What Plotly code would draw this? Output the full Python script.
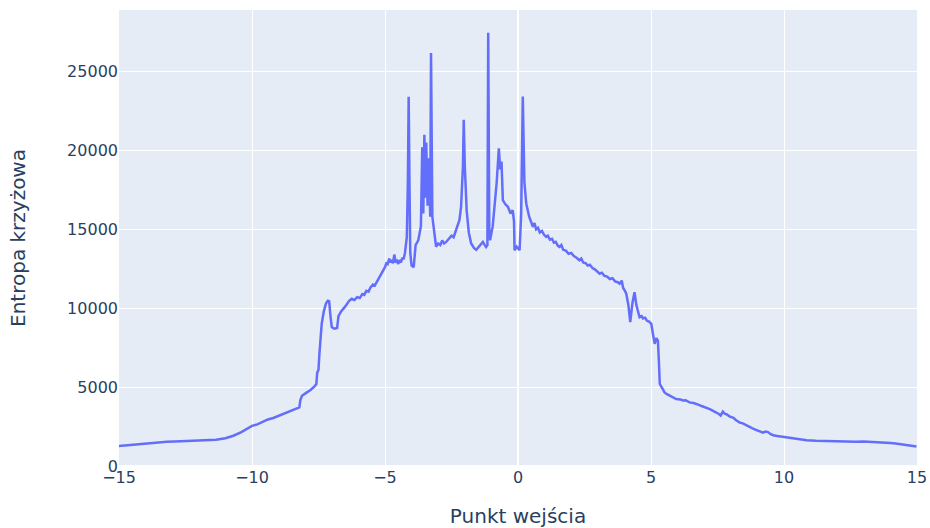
import plotly.graph_objects as go

x_vals = [
    -15.0, -14.6, -14.2, -13.8, -13.5, -13.2, -12.9, -12.6, -12.3, -12.0, -11.7, -11.35,
    -11.0, -10.7, -10.4, -10.2, -10.0, -9.8, -9.6, -9.4, -9.2, -9.0, -8.86, -8.7, -8.5,
    -8.3, -8.22, -8.18, -8.12, -7.95, -7.8, -7.65, -7.58, -7.55, -7.5, -7.47, -7.43,
    -7.38, -7.3, -7.22, -7.15, -7.1, -7.05, -7.0, -6.9, -6.8, -6.75, -6.65, -6.5, -6.34,
    -6.25, -6.15, -6.05, -5.95, -5.85, -5.78, -5.7, -5.62, -5.55, -5.45, -5.38, -5.3,
    -5.21, -5.15, -5.08, -5.0, -4.95, -4.9, -4.84, -4.8, -4.75, -4.7, -4.65, -4.6,
    -4.55, -4.5, -4.46, -4.4, -4.35, -4.3, -4.25, -4.18, -4.14, -4.11, -4.08, -4.05,
    -4.0, -3.92, -3.85, -3.75, -3.65, -3.6, -3.56, -3.52, -3.48, -3.45, -3.4, -3.35,
    -3.3, -3.27, -3.22, -3.15, -3.08, -3.0, -2.92, -2.85, -2.78, -2.7, -2.6, -2.5,
    -2.42, -2.33, -2.2, -2.14, -2.07, -2.04, -2.0, -1.93, -1.85, -1.76, -1.65, -1.57,
    -1.5, -1.45, -1.38, -1.32, -1.25, -1.2, -1.15, -1.12, -1.08, -1.05, -0.95, -0.88,
    -0.8, -0.72, -0.67, -0.62, -0.57, -0.48, -0.38, -0.28, -0.2, -0.15, -0.13, -0.05,
    0.06, 0.12, 0.18, 0.24, 0.31, 0.42, 0.5, 0.56, 0.62, 0.68, 0.75, 0.82, 0.9, 0.98,
    1.06, 1.12, 1.2, 1.28, 1.35, 1.42, 1.5, 1.56, 1.63, 1.7, 1.8, 1.9, 2.0, 2.1, 2.2,
    2.31, 2.38, 2.45, 2.55, 2.62, 2.7, 2.8, 2.9, 3.0, 3.07, 3.15, 3.25, 3.35, 3.45,
    3.55, 3.65, 3.75, 3.82, 3.9, 3.95, 4.02, 4.07, 4.15, 4.22, 4.3, 4.38, 4.45, 4.57,
    4.65, 4.7, 4.78, 4.85, 4.93, 5.01, 5.08, 5.14, 5.2, 5.26, 5.3, 5.33, 5.4, 5.51,
    5.6, 5.7, 5.8, 5.95, 6.1, 6.2, 6.3, 6.45, 6.6, 6.7, 6.8, 6.9, 7.05, 7.21, 7.35,
    7.46, 7.55, 7.62, 7.7, 7.78, 7.84, 7.95, 8.1, 8.2, 8.34, 8.45, 8.6, 8.7, 8.8, 8.9,
    9.0, 9.1, 9.21, 9.3, 9.4, 9.5, 9.6, 9.75, 9.97, 10.2, 10.4, 10.6, 10.85, 11.2, 11.5,
    11.8, 12.1, 12.4, 12.7, 13.0, 13.35, 13.7, 14.0, 14.2, 14.4, 14.7, 14.98,
]

y_vals = [
    1270, 1330, 1420, 1480, 1490, 1530, 1560, 1580, 1590, 1620, 1640, 1660,
    1760, 1920, 2150, 2330, 2540, 2640, 2800, 2950, 3040, 3180, 3300, 3400, 3520,
    3650, 3720, 4200, 4450, 4650, 4820, 5050, 5200, 5900, 6100, 7000, 8100,
    9000, 9800, 10300, 10480, 10450, 9500, 8800, 8700, 8750, 9500, 9800, 10100, 10480,
    10600, 10520, 10700, 10650, 10900, 10850, 11100, 11050, 11300, 11500, 11450, 11700,
    11900, 12100, 12400, 12600, 12850, 12800, 13150, 12900, 13050, 12850, 13400, 12900,
    13000, 12800, 13050, 12900, 13200, 13100, 13500, 14500, 18000, 23400, 18000, 13500,
    12700, 12600, 14000, 14300, 15200, 20200, 16000, 21000, 17000, 20500, 16500, 19500,
    15800, 26180, 15800, 15000, 13900, 14100, 14000, 14300, 14100, 14200, 14400, 14600,
    14500, 14950, 15600, 16430, 19000, 21940, 19000, 16200, 14800, 14100, 13800, 13700,
    13850, 13900, 14100, 14200, 14000, 13880, 14000, 27460, 15000, 14300, 15200, 16430,
    18000, 20140, 18800, 19300, 16850, 16600, 16430, 16000, 16220, 15500, 13670, 13900,
    13670, 16000, 23420, 18000, 16640, 15800, 15500, 15160, 15400, 15000, 15100, 14800, 14900, 14650,
    14520, 14600, 14350, 14400, 14150, 14200, 13950, 13880, 14000, 13700, 13650, 13450, 13500, 13300, 13200,
    13040, 13150, 12900, 12850, 12700, 12750, 12550, 12450, 12300, 12190, 12250, 12050, 12000, 11850,
    11900, 11700, 11650, 11560, 11750, 11300, 11100, 10920, 10200, 9120, 10300, 11020, 10200, 9430,
    9500, 9350, 9400, 9200, 9150, 9010, 8300, 7740, 8100, 7950, 6500, 5200, 5000, 4660,
    4550, 4450, 4380, 4240, 4220, 4150, 4170, 4030, 3990, 3950, 3870, 3800, 3720, 3610, 3480,
    3390, 3300, 3200, 3450, 3300, 3280, 3150, 3050, 2900, 2750, 2700, 2550, 2480, 2400, 2320,
    2250, 2180, 2120, 2180, 2150, 2020, 1950, 1900, 1840, 1780, 1720, 1680, 1630, 1600, 1580,
    1570, 1550, 1540, 1530, 1550, 1530, 1480, 1450, 1420, 1380, 1330, 1230,
]

x_ticks = [-15, -10, -5, 0, 5, 10, 15]
y_ticks = [0, 5000, 10000, 15000, 20000, 25000]

x_title = "Punkt wejścia"
y_title = "Entropa krzyżowa"

fig = go.Figure(
    go.Scatter(x=x_vals, y=y_vals, mode="lines",
               line=dict(color="#636efa", width=2.5))
)

fig.update_layout(
    template="plotly",
    width=930, height=528,
    margin=dict(l=119, r=13, t=10, b=62, autoexpand=False),
    font=dict(family="DejaVu Sans, Verdana, sans-serif", size=16, color="#2a3f5f"),
    showlegend=False,
    xaxis=dict(title=dict(text=x_title, font=dict(size=20), standoff=24),
               range=[-15, 15], tickvals=x_ticks,
               automargin=False),
    yaxis=dict(title=dict(text=y_title, font=dict(size=20), standoff=36),
               range=[0, 28900], tickvals=y_ticks, tickformat="d",
               automargin=False),
)

fig.write_html("out.html")
